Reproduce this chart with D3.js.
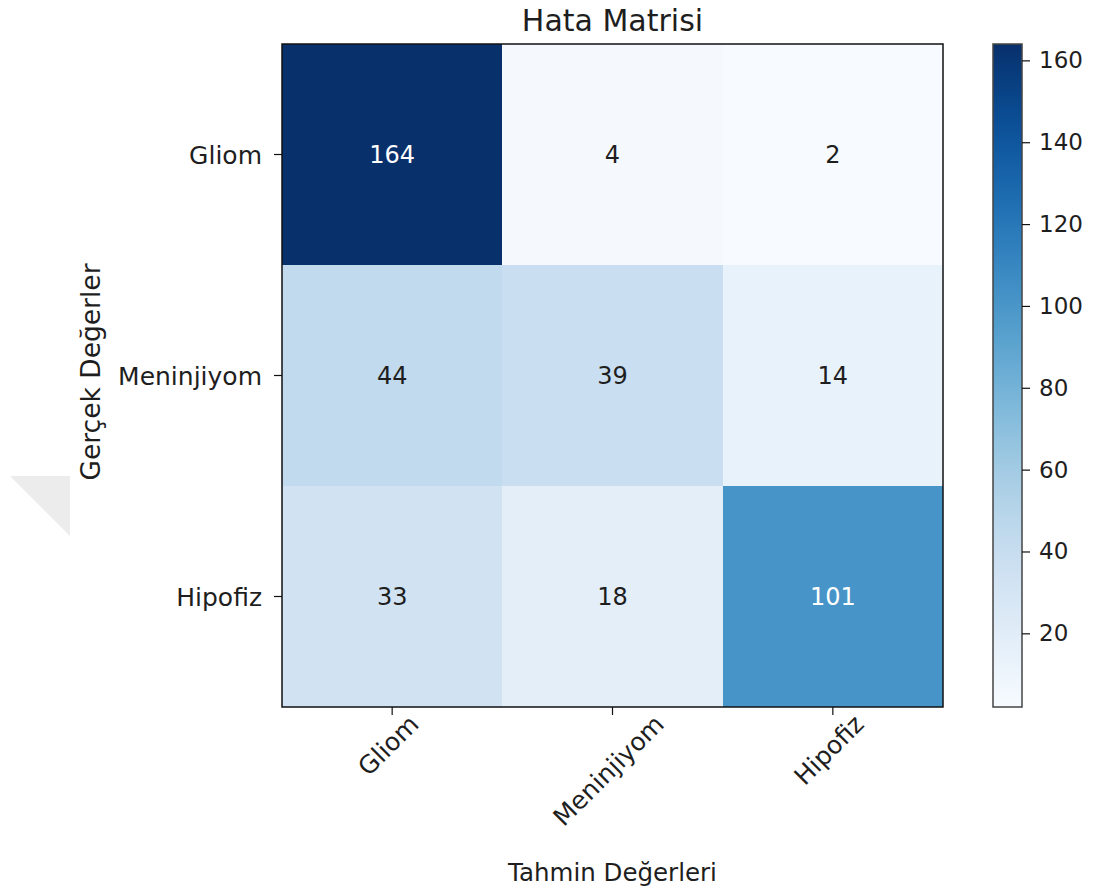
<!DOCTYPE html>
<html>
<head>
<meta charset="utf-8">
<script src="https://cdn.jsdelivr.net/npm/d3@7"></script>
<style>
  html, body { margin: 0; padding: 0; background: #fff; }
  svg text { font-family: "DejaVu Sans", Verdana, sans-serif; fill: #1e1e1e; }
</style>
</head>
<body>
<svg id="chart" width="1103" height="894"></svg>
<script>
// Class names (rows = actual, columns = predicted)
const classes = ["Gliom", "Meninjiyom", "Hipofiz"];
// Confusion matrix counts, one row per actual class
const rowGliom = [164, 4, 2];
const rowMeninjiyom = [44, 39, 14];
const rowHipofiz = [33, 18, 101];
const matrix = [rowGliom, rowMeninjiyom, rowHipofiz];
// Colour bar tick values
const colorbarTicks = [20, 40, 60, 80, 100, 120, 140, 160];

const title = "Hata Matrisi";
const xTitle = "Tahmin Değerleri";
const yTitle = "Gerçek Değerler";

const svg = d3.select("#chart");

// Layout of the matrix area and colour bar
const plot = { left: 282, top: 44, right: 943, bottom: 707 };
const bar = { left: 993, right: 1022, top: 44, bottom: 707 };

const cells = matrix.flatMap((row, i) => row.map((v, j) => ({ actual: classes[i], predicted: classes[j], value: v })));
const vmin = d3.min(cells, d => d.value);
const vmax = d3.max(cells, d => d.value);

const x = d3.scaleBand().domain(classes).range([plot.left, plot.right]);
const y = d3.scaleBand().domain(classes).range([plot.top, plot.bottom]);
const color = d3.scaleSequential(d3.interpolateBlues).domain([vmin, vmax]);

// faint corner mark at the left edge
svg.append("path")
  .attr("d", "M10,476 L70,476 L70,536 Z")
  .attr("fill", "#ececec");

// Matrix cells
svg.append("g").selectAll("rect")
  .data(cells)
  .join("rect")
  .attr("x", d => x(d.predicted))
  .attr("y", d => y(d.actual))
  .attr("width", x.bandwidth())
  .attr("height", y.bandwidth())
  .attr("shape-rendering", "crispEdges")
  .attr("fill", d => color(d.value));

// Cell counts; white on dark cells
const thresh = vmax / 2;
svg.append("g").selectAll("text")
  .data(cells)
  .join("text")
  .attr("x", d => x(d.predicted) + x.bandwidth() / 2)
  .attr("y", d => y(d.actual) + y.bandwidth() / 2)
  .attr("text-anchor", "middle")
  .attr("dominant-baseline", "central")
  .style("font-size", "24px")
  .style("fill", d => d.value > thresh ? "#ffffff" : "#1e1e1e")
  .text(d => d.value);

// Frame
svg.append("rect")
  .attr("x", plot.left).attr("y", plot.top)
  .attr("width", plot.right - plot.left).attr("height", plot.bottom - plot.top)
  .attr("fill", "none").attr("stroke", "#111").attr("stroke-width", 1.5);

// Y axis
const yAxis = svg.append("g")
  .attr("transform", `translate(${plot.left},0)`)
  .call(d3.axisLeft(y).tickSize(8).tickPadding(12));
yAxis.select(".domain").remove();
yAxis.selectAll(".tick line").attr("stroke", "#111").attr("stroke-width", 1.2);
yAxis.selectAll(".tick text").style("font-size", "25px").attr("fill", "#1e1e1e").attr("dy", "0.38em");

// X axis with rotated labels
const xAxis = svg.append("g")
  .attr("transform", `translate(0,${plot.bottom})`)
  .call(d3.axisBottom(x).tickSize(8).tickFormat(""));
xAxis.select(".domain").remove();
xAxis.selectAll(".tick line").attr("stroke", "#111").attr("stroke-width", 1.2);

// rotated tick labels, centred on their ticks by the rotated box
classes.forEach(c => {
  const fs = 25;
  const t = svg.append("text")
    .style("font-size", fs + "px")
    .attr("text-anchor", "middle")
    .text(c);
  const w = t.node().getComputedTextLength();
  const h = fs * 0.75;
  const d = (w / 2) * Math.SQRT1_2 + (h / 2) * Math.SQRT1_2;
  const cx = x(c) + x.bandwidth() / 2 - 4;
  const cy = plot.bottom + 6 + d;
  t.attr("transform", `translate(${cx},${cy}) rotate(-45)`)
   .attr("dy", "0.35em");
});

// Titles
svg.append("text")
  .attr("x", (plot.left + plot.right) / 2).attr("y", 31)
  .attr("text-anchor", "middle")
  .style("font-size", "30px")
  .text(title);

svg.append("text")
  .attr("x", (plot.left + plot.right) / 2).attr("y", 881)
  .attr("text-anchor", "middle")
  .style("font-size", "24.5px")
  .text(xTitle);

svg.append("text")
  .attr("transform", `translate(100,372) rotate(-90)`)
  .attr("text-anchor", "middle")
  .style("font-size", "26.5px")
  .text(yTitle);

// Colour bar
const cb = d3.scaleLinear().domain([vmin, vmax]).range([bar.bottom, bar.top]);
const defs = svg.append("defs");
const grad = defs.append("linearGradient")
  .attr("id", "cbar").attr("x1", 0).attr("y1", 1).attr("x2", 0).attr("y2", 0);
d3.range(0, 1.0001, 0.05).forEach(t => {
  grad.append("stop").attr("offset", t).attr("stop-color", color(vmin + t * (vmax - vmin)));
});
svg.append("rect")
  .attr("x", bar.left).attr("y", bar.top)
  .attr("width", bar.right - bar.left).attr("height", bar.bottom - bar.top)
  .attr("fill", "url(#cbar)")
  .attr("stroke", "#444").attr("stroke-width", 1.5);

const cbAxis = svg.append("g")
  .attr("transform", `translate(${bar.right},0)`)
  .call(d3.axisRight(cb).tickValues(colorbarTicks).tickSize(8).tickPadding(9));
cbAxis.select(".domain").remove();
cbAxis.selectAll(".tick line").attr("stroke", "#111").attr("stroke-width", 1.2);
cbAxis.selectAll(".tick text").style("font-size", "23px").attr("fill", "#1e1e1e");
</script>
</body>
</html>
